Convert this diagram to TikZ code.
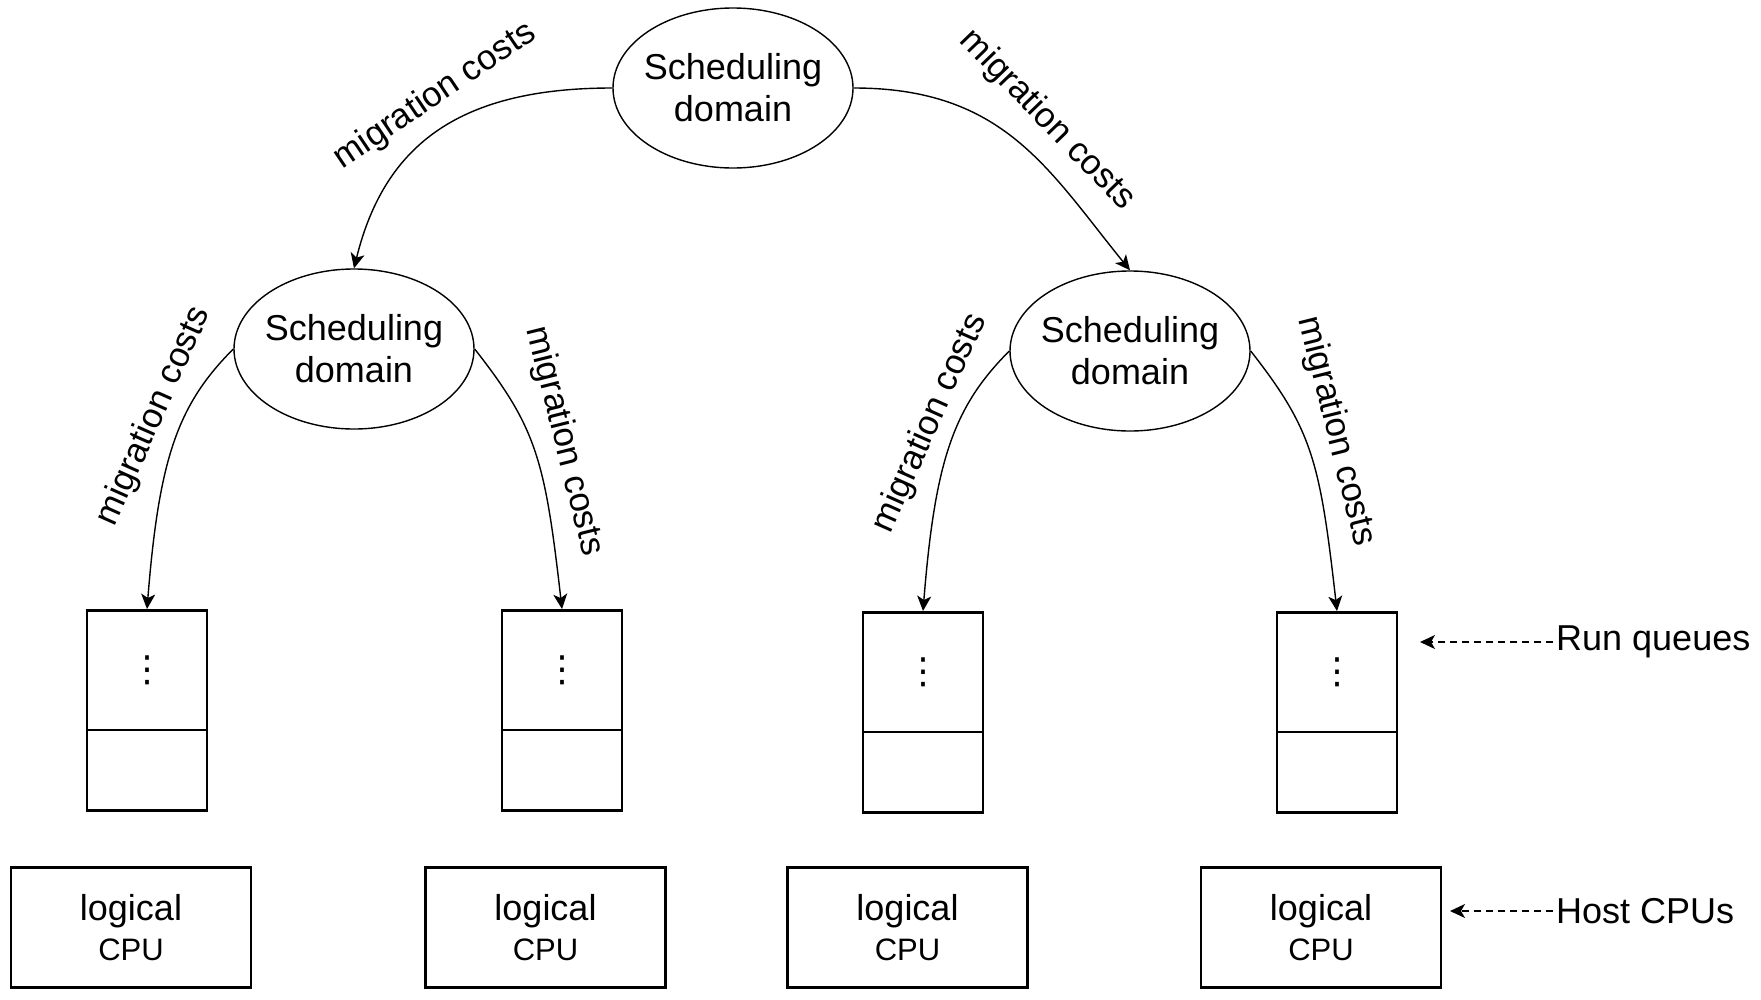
\documentclass[tikz,border=0pt]{standalone}
\usepackage{fontspec}
\setmainfont{Liberation Sans}
\newfontfamily\dejavu{DejaVu Sans}
\usetikzlibrary{shapes.geometric,shapes.multipart,arrows.meta}
\newcommand\rqdots{\vbox to 117pt{\vss\hbox{\dejavu\fontsize{36}{36}\selectfont ⋮}\vss}}
\tikzset{
  sdomain/.style={ellipse, draw, line width=1.4pt, minimum width=240pt, minimum height=160pt, inner xsep=-6pt, inner ysep=0pt, align=center, font=\fontsize{36}{42}\selectfont},
  queue/.style={rectangle split, rectangle split parts=2, draw, line width=2.5pt, minimum width=120pt, inner sep=0pt, anchor=north},
  cpu/.style={draw, line width=2.5pt, minimum width=240pt, minimum height=120pt, inner sep=0pt, align=center, font=\fontsize{36}{40}\selectfont},
  cost/.style={inner sep=0pt, font=\fontsize{35}{40}\selectfont},
  note/.style={inner xsep=3pt, inner ysep=0pt, anchor=west, font=\fontsize{36}{43}\selectfont},
  mig/.style={line width=1.4pt, -{Stealth[length=15pt,width=14pt,inset=4pt]}},
  hint/.style={mig, dash pattern=on 7pt off 5pt}
}
\begin{document}
\begin{tikzpicture}[x=1pt,y=1pt]
\useasboundingbox (0,0) rectangle (1761,-999);
\node[sdomain] (r) at (733,-88) {Scheduling\\domain};
\node[sdomain] (l) at (354,-349) {Scheduling\\domain};
\node[sdomain] (rr) at (1130,-351) {Scheduling\\domain};
\node[queue] (q1) at (147,-609) {\rqdots \nodepart{two} \rule{0pt}{78pt}};
\node[queue] (q2) at (562,-609) {\rqdots \nodepart{two} \rule{0pt}{78pt}};
\node[queue] (q3) at (923,-611) {\rqdots \nodepart{two} \rule{0pt}{78pt}};
\node[queue] (q4) at (1337,-611) {\rqdots \nodepart{two} \rule{0pt}{78pt}};
\node[cpu] (c1) at (131,-927.5) {logical\\{\fontsize{31}{40}\selectfont CPU}};
\node[cpu] (c2) at (545.5,-927.5) {logical\\{\fontsize{31}{40}\selectfont CPU}};
\node[cpu] (c3) at (907.5,-927.5) {logical\\{\fontsize{31}{40}\selectfont CPU}};
\node[cpu] (c4) at (1321,-927.5) {logical\\{\fontsize{31}{40}\selectfont CPU}};
\node[cost, rotate=34] (m1) at (435,-96) {migration costs};
\node[cost, rotate=-46] (m2) at (1047,-120) {migration costs};
\node[cost, rotate=66] (m3) at (154,-416) {migration costs};
\node[cost, rotate=-76] (m4) at (564,-441) {migration costs};
\node[cost, rotate=66] (m5) at (930,-423) {migration costs};
\node[cost, rotate=-76] (m6) at (1336,-431) {migration costs};
\draw[mig] (r.west) .. controls +(-150,0) and +(31,126) .. (l.north);
\draw[mig] (r.east) .. controls +(150,0) and +(-82,101) .. (rr.north);
\draw[mig] (l.west) .. controls +(-56,-56) and +(12,150) .. (q1.north);
\draw[mig] (l.east) .. controls +(62,-79) and +(-17,149) .. (q2.north);
\draw[mig] (rr.west) .. controls +(-56,-56) and +(12,150) .. (q3.north);
\draw[mig] (rr.east) .. controls +(62,-79) and +(-17,149) .. (q4.north);
\node[note] (rq) at (1553,-642) {Run queues};
\node[note] (hc) at (1553,-911) {Host CPUs};
\coordinate (rqtip) at (1420,-642);
\coordinate (hctip) at (1450,-911);
\draw[hint] (rq.west) -- (rqtip);
\draw[hint] (hc.west) -- (hctip);
\end{tikzpicture}
\end{document}
